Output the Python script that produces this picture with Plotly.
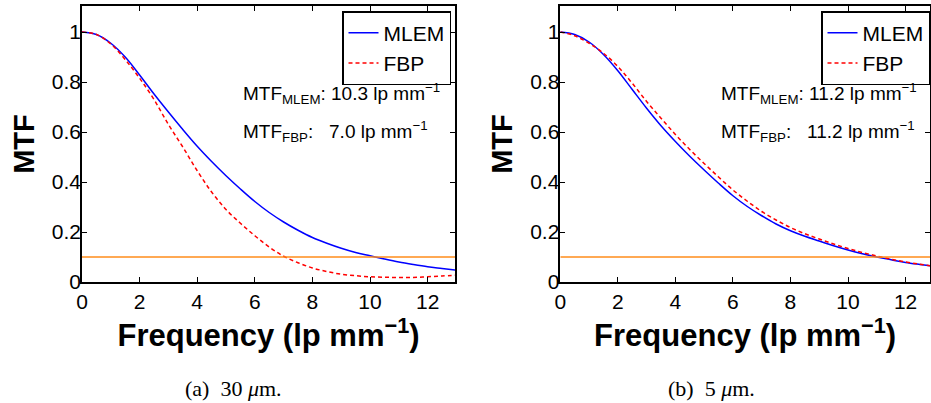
import plotly.graph_objects as go

# ---------------- data ----------------
freq_a = [0, 0.5, 1, 1.5, 2, 2.5, 3, 3.5, 4, 4.5, 5, 5.5, 6, 6.5, 7, 7.5, 8, 8.5, 9, 9.5,
          10, 10.5, 11, 11.5, 12, 12.5, 13]
mlem_a = [1.0, 0.99, 0.955, 0.90, 0.828, 0.752, 0.68, 0.61, 0.543, 0.482, 0.425, 0.372,
          0.322, 0.278, 0.24, 0.207, 0.178, 0.155, 0.135, 0.118, 0.105, 0.092, 0.08, 0.07,
          0.061, 0.054, 0.047]
fbp_a = [1.0, 0.99, 0.952, 0.89, 0.815, 0.73, 0.63, 0.54, 0.445, 0.36, 0.29, 0.235,
         0.185, 0.14, 0.103, 0.077, 0.056, 0.042, 0.031, 0.025, 0.021, 0.019, 0.018, 0.018,
         0.021, 0.024, 0.027]

freq_b = [0, 0.5, 1, 1.5, 2, 2.5, 3, 3.5, 4, 4.5, 5, 5.5, 6, 6.5, 7, 7.5, 8, 8.5, 9, 9.5,
          10, 10.5, 11, 11.5, 12, 12.5, 12.85]
mlem_b = [1.0, 0.99, 0.96, 0.91, 0.845, 0.77, 0.695, 0.625, 0.562, 0.503, 0.448, 0.395,
          0.345, 0.302, 0.265, 0.232, 0.205, 0.183, 0.164, 0.145, 0.128, 0.113, 0.1, 0.089,
          0.078, 0.07, 0.065]
fbp_b = [1.0, 0.985, 0.955, 0.915, 0.862, 0.795, 0.722, 0.655, 0.59, 0.53, 0.474, 0.42,
         0.368, 0.323, 0.282, 0.248, 0.218, 0.193, 0.172, 0.152, 0.134, 0.118, 0.104, 0.091,
         0.08, 0.071, 0.065]

threshold = 0.1
res_a = {"MLEM": "10.3", "FBP": "7.0"}
res_b = {"MLEM": "11.2", "FBP": "11.2"}
captions = ["(a)&nbsp;&nbsp;30&nbsp;<i>μ</i>m.", "(b)&nbsp;&nbsp;5&nbsp;<i>μ</i>m."]
xticks = [0, 2, 4, 6, 8, 10, 12]
yticks = [0, 0.2, 0.4, 0.6, 0.8, 1]

W, H = 931, 403
SANS = "Liberation Sans, Arial, sans-serif"
SERIF = "Liberation Serif, Times New Roman, serif"

fig = go.Figure()

panels = [
    dict(x=freq_a, m=mlem_a, f=fbp_a, xa="x", ya="y", leg="legend", xmax=12.95),
    dict(x=freq_b, m=mlem_b, f=fbp_b, xa="x2", ya="y2", leg="legend2", xmax=12.85),
]

for p in panels:
    fig.add_trace(go.Scatter(x=p["x"], y=p["m"], mode="lines", name="MLEM",
                             line=dict(color="#0000ff", width=1.5, shape="spline"),
                             xaxis=p["xa"], yaxis=p["ya"], legend=p["leg"]))
    fig.add_trace(go.Scatter(x=p["x"], y=p["f"], mode="lines", name="FBP",
                             line=dict(color="#ff0000", width=1.5, dash="4px,3px", shape="spline"),
                             xaxis=p["xa"], yaxis=p["ya"], legend=p["leg"]))
    fig.add_trace(go.Scatter(x=[0, p["xmax"]], y=[threshold, threshold], mode="lines",
                             line=dict(color="#ff8c1a", width=1.5), showlegend=False,
                             xaxis=p["xa"], yaxis=p["ya"]))


def px_x(v):
    return v / W


def px_y(v):
    return 1 - v / H


ydom = [px_y(282), px_y(6)]
axis_common = dict(showgrid=False, zeroline=False, showline=True, linecolor="black",
                   linewidth=1.5, mirror="ticks", ticks="inside", ticklen=5,
                   tickcolor="black", tickwidth=1, automargin=False,
                   tickfont=dict(family=SANS, size=21, color="black"))

title_x = dict(text="Frequency (lp mm<sup>−1</sup>)",
               font=dict(family=SANS, size=31, color="black", weight="bold"), standoff=8)
title_y = dict(text="MTF", font=dict(family=SANS, size=29, color="black", weight="bold"), standoff=9)

legend_common = dict(xanchor="right", yanchor="top", bgcolor="white", bordercolor="black",
                     borderwidth=1.5, font=dict(family=SANS, size=21, color="black"),
                     itemwidth=30, tracegroupgap=0)

fig.update_layout(
    template="none",
    width=W, height=H,
    margin=dict(l=0, r=0, t=0, b=0, pad=0),
    paper_bgcolor="white", plot_bgcolor="white",
    xaxis=dict(domain=[px_x(82), px_x(455)], range=[0, 12.95], tickvals=xticks,
               anchor="y", title=title_x, **axis_common),
    yaxis=dict(domain=ydom, range=[0, 1.104], tickvals=yticks, anchor="x",
               title=title_y, ticklabelstandoff=-5, **axis_common),
    xaxis2=dict(domain=[px_x(560.3), px_x(930)], range=[0, 12.85], tickvals=xticks,
                anchor="y2", title=title_x, **axis_common),
    yaxis2=dict(domain=ydom, range=[0, 1.104], tickvals=yticks, anchor="x2",
                title=title_y, ticklabelstandoff=-5, **axis_common),
    legend=dict(x=px_x(451), y=px_y(11), **legend_common),
    legend2=dict(x=px_x(930), y=px_y(11), **legend_common),
    showlegend=True,
)

ann_font = dict(family=SANS, size=19, color="black")
for x0, res in [(241, res_a), (719, res_b)]:
    fig.add_annotation(text=f"MTF<sub>MLEM</sub>: {res['MLEM']} lp mm<sup>−1</sup>",
                       xref="paper", yref="paper", x=px_x(x0), y=px_y(94),
                       xanchor="left", yanchor="middle", showarrow=False, font=ann_font)
    fig.add_annotation(text=f"MTF<sub>FBP</sub>:&nbsp;&nbsp; {res['FBP']} lp mm<sup>−1</sup>",
                       xref="paper", yref="paper", x=px_x(x0), y=px_y(131),
                       xanchor="left", yanchor="middle", showarrow=False, font=ann_font)

for cx, cap in zip([233.5, 711.5], captions):
    fig.add_annotation(text=cap, xref="paper", yref="paper", x=px_x(cx), y=px_y(388),
                       xanchor="center", yanchor="middle", showarrow=False,
                       font=dict(family=SERIF, size=22, color="black"))

fig.write_html("out.html", config={"displayModeBar": False},
               post_script="document.body.style.margin='0';document.body.style.overflow='hidden';")
